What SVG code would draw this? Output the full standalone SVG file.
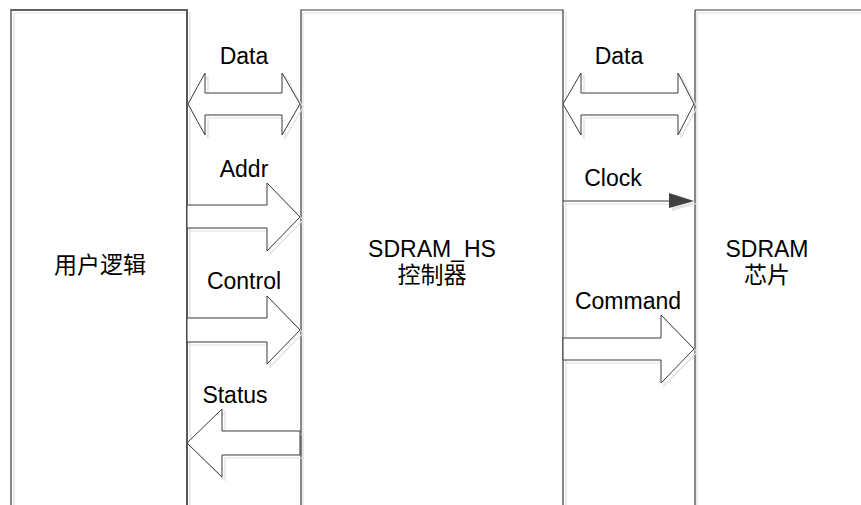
<svg xmlns="http://www.w3.org/2000/svg" xmlns:xlink="http://www.w3.org/1999/xlink" width="861" height="505" viewBox="0 0 861 505">
<style>
.box{fill:none;stroke:#3a3a3a;stroke-width:1.2}
.boxsh{fill:none;stroke:#e2e2e2;stroke-width:1.2}
.arr{fill:#fff;stroke:#3a3a3a;stroke-width:1}
.arrsh{fill:none;stroke:#e0e0e0;stroke-width:1.2}
.lbl{font-family:"Liberation Sans","Noto Sans CJK SC",sans-serif;font-size:23px;fill:#000;text-anchor:middle}
</style>
<defs>
<polygon id="dataL" points="188,104 205,73 205,93 282,93 282,73 300,104 282,135 282,115 205,115 205,135"/>
<polygon id="addr" points="187,205 267,205 267,183 300,217 267,251 267,228 187,228"/>
<polygon id="ctrl" points="187,318 267,318 267,296 300,330 267,364 267,342 187,342"/>
<polygon id="stat" points="300,431 222,431 222,409 187,443 222,477 222,455 300,455"/>
<polygon id="dataR" points="563,104 581,73 581,93 678,93 678,73 694,104 678,135 678,115 581,115 581,135"/>
<polygon id="cmd" points="563,338 661,338 661,315 694,349 661,383 661,360 563,360"/>
</defs>
<g id="shadows">
<path class="boxsh" d="M14,505 V13 H190 V505"/>
<path class="boxsh" d="M303,505 V13 H566 V505"/>
<path class="boxsh" d="M697,505 V13 H861"/>
</g>
<g id="node-user">
<path class="box" d="M11,505 V10 H187 V505" style="stroke:#888;stroke-width:2" />
<path class="box" d="M11,10 H187 V505"/>
<text class="lbl" x="100" y="273">用户逻辑</text>
</g>
<g id="node-ctrl">
<path class="box" d="M301,505 V10 H563 V505"/>
<text class="lbl" x="432" y="257">SDRAM_HS</text>
<text class="lbl" x="432" y="283">控制器</text>
</g>
<g id="node-sdram">
<path class="box" d="M695,505 V10" style="stroke:#888;stroke-width:2"/>
<path class="box" d="M695,10 H861"/>
<text class="lbl" x="767" y="257">SDRAM</text>
<text class="lbl" x="767" y="283">芯片</text>
</g>
<g id="connectors">
<use xlink:href="#dataL" class="arrsh" transform="translate(3,3)"/>
<use xlink:href="#addr" class="arrsh" transform="translate(3,3)"/>
<use xlink:href="#ctrl" class="arrsh" transform="translate(3,3)"/>
<use xlink:href="#stat" class="arrsh" transform="translate(3,3)"/>
<use xlink:href="#dataR" class="arrsh" transform="translate(3,3)"/>
<use xlink:href="#cmd" class="arrsh" transform="translate(3,3)"/>
<line x1="563" y1="204" x2="672" y2="204" stroke="#e0e0e0" stroke-width="1.2"/>
<polygon points="672,196 697,204 672,211" fill="#e4e4e4"/>
<use xlink:href="#dataL" class="arr"/>
<use xlink:href="#addr" class="arr"/>
<use xlink:href="#ctrl" class="arr"/>
<use xlink:href="#stat" class="arr"/>
<use xlink:href="#dataR" class="arr"/>
<use xlink:href="#cmd" class="arr"/>
<line x1="563" y1="201" x2="670" y2="201" stroke="#3a3a3a" stroke-width="1"/>
<polygon points="669,193 694,201 669,208" fill="#404040"/>
<text class="lbl" x="244" y="64">Data</text>
<text class="lbl" x="244" y="177">Addr</text>
<text class="lbl" x="244" y="289">Control</text>
<text class="lbl" x="235" y="403">Status</text>
<text class="lbl" x="619" y="64">Data</text>
<text class="lbl" x="613" y="186">Clock</text>
<text class="lbl" x="628" y="309">Command</text>
</g>
</svg>
